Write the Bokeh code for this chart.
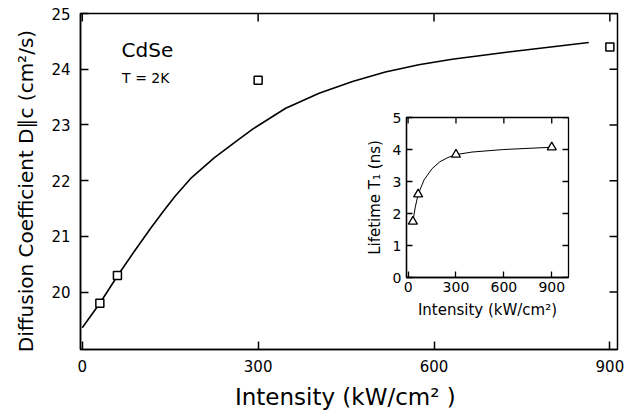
import math
from bokeh.plotting import figure
from bokeh.models import Label, Range1d, FixedTicker
from bokeh.layouts import column
from bokeh.embed import file_html
from bokeh.resources import INLINE

# ---- data: main panel (Diffusion coefficient vs intensity) ----
main_x = [30, 60, 300, 900]
main_y = [19.8, 20.3, 23.8, 24.4]
fit_x = [0, 30, 60, 88, 117, 139, 159, 185, 225, 259, 290, 347, 404, 461, 517, 574, 631, 727, 864]
fit_y = [19.36, 19.80, 20.29, 20.72, 21.15, 21.46, 21.73, 22.04, 22.41, 22.68, 22.92,
         23.30, 23.57, 23.78, 23.95, 24.08, 24.18, 24.31, 24.48]
main_xticks = [0, 300, 600, 900]
main_yticks = [20, 21, 22, 23, 24, 25]

# ---- data: inset (Lifetime T1 vs intensity) ----
ins_x = [30, 63, 300, 900]
ins_y = [1.75, 2.6, 3.84, 4.07]
ins_fit_x = [30, 45, 63, 100, 150, 200, 250, 300, 400, 600, 900]
ins_fit_y = [1.75, 2.2, 2.6, 3.05, 3.4, 3.62, 3.75, 3.84, 3.92, 4.0, 4.07]
ins_xticks = [0, 300, 600, 900]
ins_yticks = [0, 1, 2, 3, 4, 5]

FONT = "DejaVu Sans"

p = figure(width=629, height=412, output_backend="svg", toolbar_location=None,
           x_range=Range1d(-3, 913), y_range=Range1d(18.97, 25.0),
           min_border_left=80, min_border_right=12, min_border_top=13,
           min_border_bottom=60)
p.grid.visible = False
p.outline_line_color = "black"
p.outline_line_width = 1.5
p.background_fill_color = "white"

def style_axis(ax, ticks, fs, tick_len, lw):
    ax.ticker = FixedTicker(ticks=ticks)
    ax.axis_line_width = lw
    ax.axis_line_color = "black"
    ax.major_tick_in = tick_len
    ax.major_tick_out = 0
    ax.major_tick_line_width = lw
    ax.minor_tick_line_color = None
    ax.major_label_text_font = FONT
    ax.major_label_text_color = "black"
    ax.major_label_text_font_size = fs

style_axis(p.xaxis[0], main_xticks, "15px", 8, 1.5)
style_axis(p.yaxis[0], main_yticks, "15px", 8, 1.5)
p.xaxis[0].major_label_standoff = 10
p.yaxis[0].major_label_standoff = 10
p.xaxis[0].axis_label = "Intensity  (kW/cm\u00b2 )"
p.yaxis[0].axis_label = "Diffusion  Coefficient  D\u2225c  (cm\u00b2/s)"
for ax, fs in ((p.xaxis[0], "23px"), (p.yaxis[0], "20px")):
    ax.axis_label_text_font = FONT
    ax.axis_label_text_font_size = fs
    ax.axis_label_text_font_style = "normal"
    ax.axis_label_text_color = "black"
p.xaxis[0].axis_label_standoff = 9
p.yaxis[0].axis_label_standoff = 10

# mirrored inward ticks on top and right (dash markers clipped by the frame)
p.scatter(main_xticks, [p.y_range.end] * len(main_xticks), marker="dash", angle=math.pi / 2,
          size=16, line_color="black", line_width=1.5)
p.scatter([p.x_range.end] * len(main_yticks), main_yticks, marker="dash",
          size=16, line_color="black", line_width=1.5)

p.line(fit_x, fit_y, line_color="black", line_width=1.6)
p.scatter(main_x, main_y, marker="square", size=8, fill_color="white",
          line_color="black", line_width=1.5)

p.add_layout(Label(x=67, y=24.35, text="CdSe", text_font=FONT, text_font_size="20px",
                   text_baseline="middle", text_color="black"))
p.add_layout(Label(x=68, y=23.85, text="T = 2K", text_font=FONT, text_font_size="14px",
                   text_baseline="middle", text_color="black"))

# ---- inset ----
q = figure(width=254, height=215, output_backend="svg", toolbar_location=None,
           x_range=Range1d(-10, 1005), y_range=Range1d(0, 5),
           min_border_left=45, min_border_right=11, min_border_top=7,
           min_border_bottom=48)
q.grid.visible = False
q.outline_line_color = "black"
q.outline_line_width = 1.3
q.background_fill_alpha = 0
q.border_fill_alpha = 0

style_axis(q.xaxis[0], ins_xticks, "14px", 6, 1.3)
style_axis(q.yaxis[0], ins_yticks, "14px", 6, 1.3)
q.xaxis[0].major_label_standoff = 4
q.yaxis[0].major_label_standoff = 5
q.xaxis[0].axis_label = "Intensity (kW/cm\u00b2)"
q.yaxis[0].axis_label = "Lifetime T\u2081 (ns)"
for ax in (q.xaxis[0], q.yaxis[0]):
    ax.axis_label_text_font = FONT
    ax.axis_label_text_font_size = "15px"
    ax.axis_label_text_font_style = "normal"
    ax.axis_label_text_color = "black"
    ax.axis_label_standoff = 6

q.scatter(ins_xticks, [q.y_range.end] * len(ins_xticks), marker="dash", angle=math.pi / 2,
          size=12, line_color="black", line_width=1.3)
q.scatter([q.x_range.end] * len(ins_yticks), ins_yticks, marker="dash",
          size=12, line_color="black", line_width=1.3)

q.line(ins_fit_x, ins_fit_y, line_color="black", line_width=1.0)
q.scatter(ins_x, ins_y, marker="triangle", size=9, fill_color="white",
          line_color="black", line_width=1.3)

q.styles = {"position": "absolute", "left": "326px", "top": "110px"}

layout = column(p, q)
open("out.html", "w").write(file_html(layout, INLINE))
